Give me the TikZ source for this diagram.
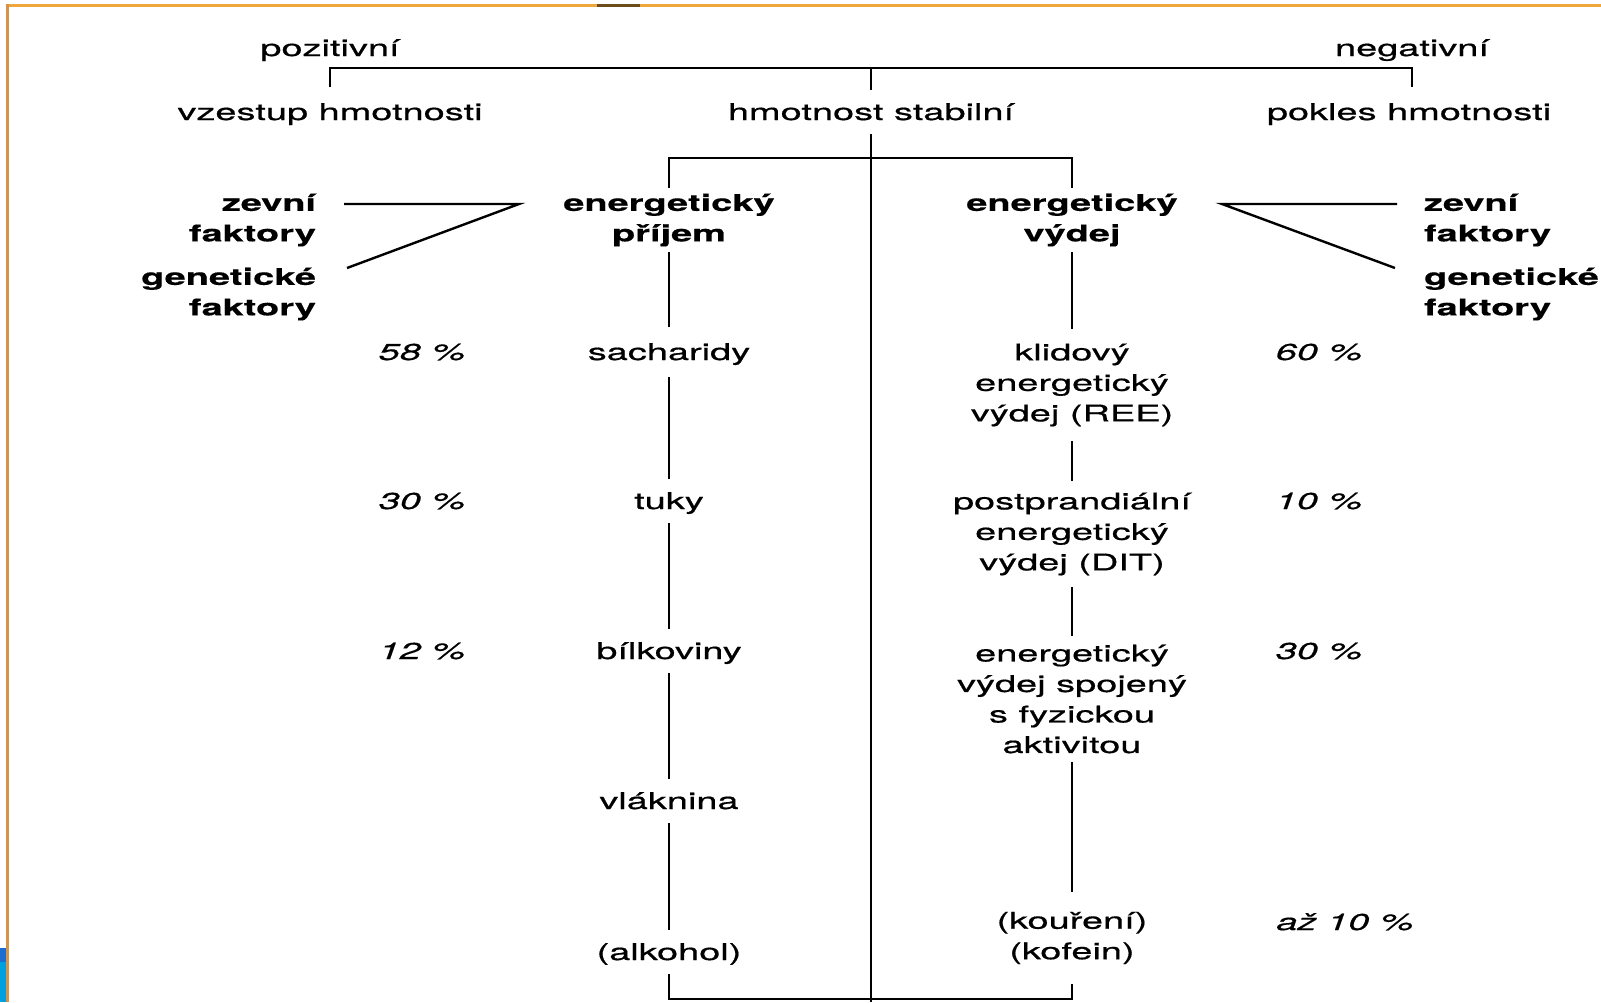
\documentclass[tikz,border=0pt]{standalone}
\usepackage{fontspec}
\setmainfont{TeX Gyre Heros}[FakeStretch=1.65,
  UprightFeatures={FakeBold=0.6},
  ItalicFeatures={FakeBold=0.6},
  BoldFeatures={FakeBold=0.4}]
\definecolor{bordertop}{HTML}{EFA63A}
\definecolor{borderleft}{HTML}{D4934A}
\definecolor{blueA}{HTML}{1C6DD0}
\definecolor{blueB}{HTML}{009FDF}
\begin{document}
\begin{tikzpicture}[x=1pt,y=-1pt,
  every node/.style={font=\fontsize{23}{30.5}\selectfont, inner sep=0pt, outer sep=0pt},
  lbl/.style={text height=16pt, text depth=0pt},
  item/.style={text height=16pt, text depth=0pt, minimum height=44pt},
  multi/.style={align=center},
  boldlbl/.style={font=\fontsize{23}{30.5}\selectfont\bfseries},
  pct/.style={font=\fontsize{23}{30.5}\selectfont\itshape, text height=16pt, text depth=0pt},
  link/.style={line width=2.4pt, black}
]
% canvas
\useasboundingbox (0,0) rectangle (1601,1002);
\fill[white] (0,0) rectangle (1601,1002);
% frame remnants
\draw[bordertop, line width=3pt] (6,5.5) -- (1601,5.5);
\draw[black!55!bordertop, line width=3pt] (597,5.5) -- (640,5.5);
\draw[borderleft, line width=3pt] (7.5,4) -- (7.5,1002);
\fill[blueA] (0,948) rectangle (6,962);
\fill[blueB] (0,962) rectangle (6,1002);

% top level
\node[lbl] (poz) at (330,48) {pozitivní};
\node[lbl] (neg) at (1412,48) {negativní};
\node[lbl, minimum height=50pt] (vzes) at (330,112) {vzestup hmotnosti};
\node[lbl, minimum height=44pt] (stab) at (871,112) {hmotnost stabilní};
\node[lbl, minimum height=50pt] (pokl) at (1409,112) {pokles hmotnosti};

\coordinate (topL) at (330,68);
\coordinate (topR) at (1412,68);
\coordinate (brk) at (871,158);
\coordinate (cbot) at (871,1002);
\coordinate (bot) at (871,999);

% second level
\node[boldlbl, multi, minimum height=64pt] (prijem) at (669,220) {energetický\\příjem};
\node[boldlbl, multi, minimum height=64pt] (vydej) at (1072,220) {energetický\\výdej};

% factors
\node[boldlbl, align=right, anchor=east] (zevL) at (316,220) {zevní\\faktory};
\node[boldlbl, align=right, anchor=east] (genL) at (316,294) {genetické\\faktory};
\node[boldlbl, align=left, anchor=west] (zevR) at (1424,220) {zevní\\faktory};
\node[boldlbl, align=left, anchor=west] (genR) at (1424,294) {genetické\\faktory};
\coordinate (zlA) at (344,204);
\coordinate (apexL) at (519,204);
\coordinate (glA) at (347,268);
\coordinate (zrA) at (1397,204);
\coordinate (apexR) at (1222,204);
\coordinate (grA) at (1395,268);

% intake column
\node[item, minimum height=50pt] (sach) at (669,352) {sacharidy};
\node[item] (tuky) at (669,501) {tuky};
\node[item] (bilk) at (669,651) {bílkoviny};
\node[item] (vlak) at (669,801) {vláknina};
\node[item] (alko) at (669,952) {(alkohol)};

% expenditure column
\node[multi, minimum height=112pt] (klid) at (1072,385) {klidový\\energetický\\výdej (REE)};
\node[multi, minimum height=106pt] (dit) at (1072,534) {postprandiální\\energetický\\výdej (DIT)};
\node[multi, minimum height=126pt] (akt) at (1072,699) {energetický\\výdej spojený\\s fyzickou\\aktivitou};
\node[multi, minimum height=92pt] (kour) at (1072,938) {(kouření)\\(kofein)};

% percentages
\node[pct] (p58) at (422,352) {58 \%};
\node[pct] (p30) at (422,501) {30 \%};
\node[pct] (p12) at (422,651) {12 \%};
\node[pct] (p60) at (1319,352) {60 \%};
\node[pct] (p10) at (1319,501) {10 \%};
\node[pct] (p30r) at (1319,651) {30 \%};
\node[pct] (paz) at (1345,922) {až 10 \%};

% connectors
\draw[link] (vzes.north) -- (topL) -- (topR) -- (topR |- vzes.north);
\draw[link] (stab.north) -- (stab.north |- topL);
\draw[link] (stab.south) -- (cbot);
\draw[link] (prijem.north) |- (brk) -| (vydej.north);

\draw[link] (zlA) -- (apexL) -- (glA);
\draw[link] (zrA) -- (apexR) -- (grA);

\draw[link] (prijem) -- (sach);
\draw[link] (sach) -- (tuky);
\draw[link] (tuky) -- (bilk);
\draw[link] (bilk) -- (vlak);
\draw[link] (vlak) -- (alko);

\draw[link] (vydej) -- (klid);
\draw[link] (klid) -- (dit);
\draw[link] (dit) -- (akt);
\draw[link] (akt) -- (kour);

\draw[link] (alko.south) |- (bot) -| (kour.south);
\end{tikzpicture}
\end{document}
